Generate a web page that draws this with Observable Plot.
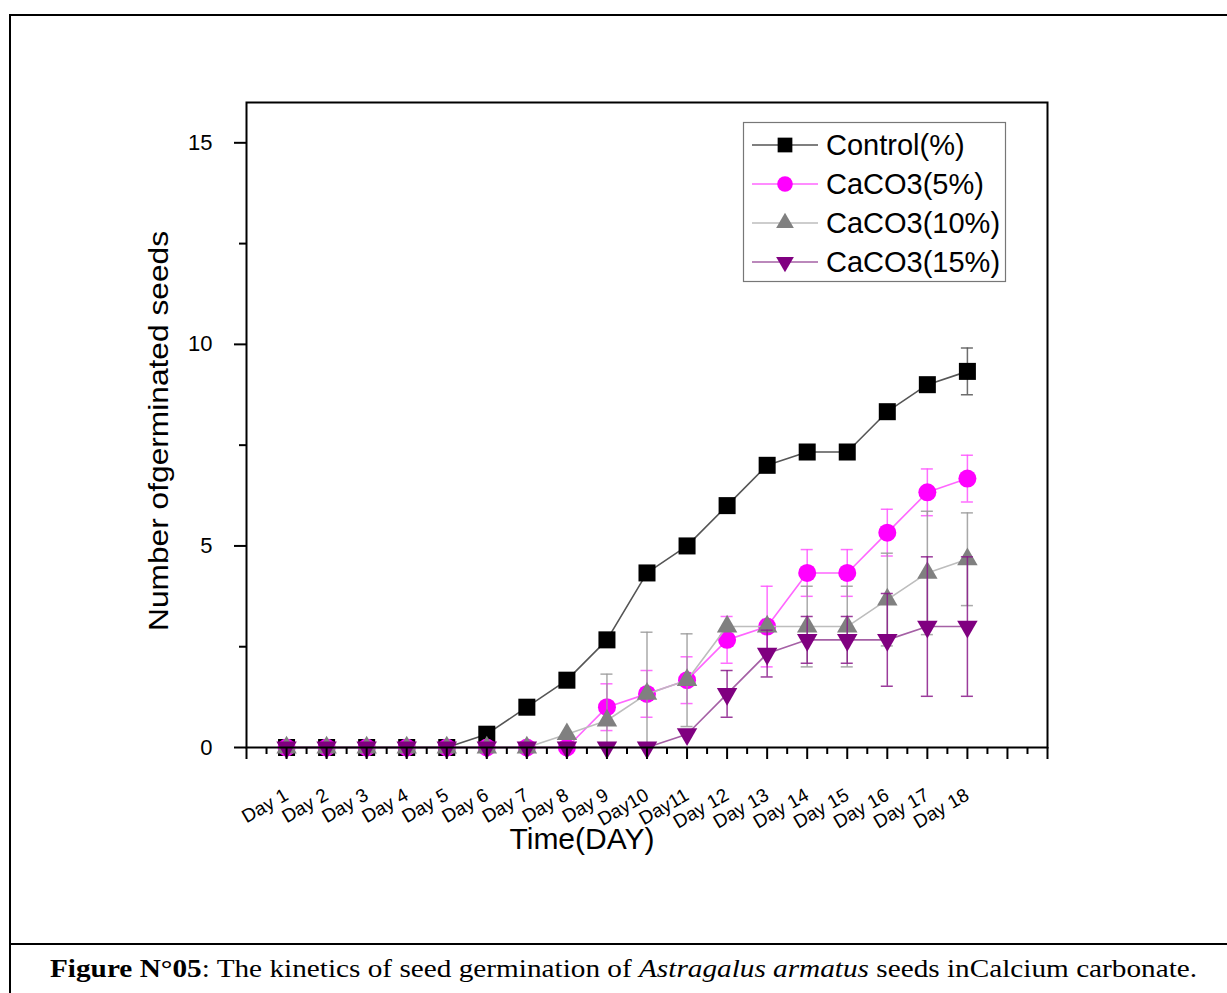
<!DOCTYPE html>
<html>
<head>
<meta charset="utf-8">
<script src="https://cdn.jsdelivr.net/npm/d3@7"></script>
<script src="https://cdn.jsdelivr.net/npm/@observablehq/plot@0.6"></script>
<style>
  html, body { margin: 0; padding: 0; background: #fff; }
  #wrap { position: relative; width: 1227px; height: 993px; overflow: hidden; }
  .line { position: absolute; background: #000; }
  #caption { position: absolute; left: 50px; top: 954px; font-family: "Liberation Serif", "Times New Roman", serif; font-size: 26px; white-space: nowrap; color: #000; transform: scaleX(1.125); transform-origin: left top; }
  #legend { position: absolute; left: 0; top: 0; }
</style>
</head>
<body>
<div id="wrap">
  <div id="chart"></div>
  <div class="line" style="left:9px; top:14px; width:1218px; height:2px;"></div>
  <div class="line" style="left:9px; top:14px; width:2px; height:979px;"></div>
  <div class="line" style="left:9px; top:943px; width:1218px; height:2px;"></div>
  <div id="caption"><b>Figure N°05</b>: The kinetics of seed germination of <i>Astragalus armatus</i> seeds inCalcium carbonate.</div>
</div>
<script>
// ---- data ----
const days = [1,2,3,4,5,6,7,8,9,10,11,12,13,14,15,16,17,18];
const dayLabels = ["Day 1","Day 2","Day 3","Day 4","Day 5","Day 6","Day 7","Day 8","Day 9","Day10","Day11","Day 12","Day 13","Day 14","Day 15","Day 16","Day 17","Day 18"];
const seriesNames = ["Control(%)", "CaCO3(5%)", "CaCO3(10%)", "CaCO3(15%)"];
const control    = [0,0,0,0,0,0.33,1,1.67,2.67,4.33,5,6,7,7.33,7.33,8.33,9,9.33];
const controlErr = [0,0,0,0,0,0,0,0,0,0,0,0,0,0,0,0,0,0.58];
const caco3_5    = [0,0,0,0,0,0,0,0,1,1.33,1.67,2.67,3,4.33,4.33,5.33,6.33,6.67];
const caco3_5Err = [0,0,0,0,0,0,0,0,0.58,0.58,0.58,0.58,1,0.58,0.58,0.58,0.58,0.58];
const caco3_10    = [0,0,0,0,0,0,0,0.33,0.67,1.33,1.67,3,3,3,3,3.67,4.33,4.67];
const caco3_10Err = [0,0,0,0,0,0,0,0,1.15,1.53,1.15,0,0,1,1,1.15,1.53,1.15];
const caco3_15    = [0,0,0,0,0,0,0,0,0,0,0.33,1.33,2.33,2.67,2.67,2.67,3,3];
const caco3_15Err = [0,0,0,0,0,0,0,0,0,0,0,0.58,0.58,0.58,0.58,1.15,1.73,1.73];
const yTicks = [0,5,10,15];
const yMinorTicks = [2.5,7.5,12.5];

// ---- styles ----
const triangleDown = {
  draw(context, size) {
    const s3 = Math.sqrt(3);
    const y = -Math.sqrt(size / (s3 * 3));
    context.moveTo(0, -y * 2);
    context.lineTo(-s3 * y, y);
    context.lineTo(s3 * y, y);
    context.closePath();
  }
};
const styles = [
  {line: "#555555", fill: "#000000", err: "#555555", symbol: "square", r: 9.6},
  {line: "#ff66ff", fill: "#ff00ff", err: "#ff55ff", symbol: "circle", r: 9},
  {line: "#bdbdbd", fill: "#808080", err: "#9a9a9a", symbol: "triangle", r: 7.6},
  {line: "#a560a5", fill: "#800080", err: "#8a1a8a", symbol: triangleDown, r: 7.6}
];
const values = [control, caco3_5, caco3_10, caco3_15];
const errs = [controlErr, caco3_5Err, caco3_10Err, caco3_15Err];

const tables = values.map((vals, s) => days.map((d, i) => ({
  series: seriesNames[s], day: d, value: vals[i], err: errs[s][i]
})));

const marks = [];
tables.forEach((rows, s) => {
  const st = styles[s];
  const er = rows.filter(r => r.err > 0);
  marks.push(
    Plot.ruleX(er, {x: "day", y1: r => Math.max(0, r.value - r.err), y2: r => r.value + r.err, stroke: st.err, strokeWidth: 1.5, strokeOpacity: 0.85}),
    Plot.ruleY(er, {y: r => r.value + r.err, x1: r => r.day - 0.15, x2: r => r.day + 0.15, stroke: st.err, strokeWidth: 1.5, strokeOpacity: 0.85}),
    Plot.ruleY(er.filter(r => r.value - r.err > 0), {y: r => r.value - r.err, x1: r => r.day - 0.15, x2: r => r.day + 0.15, stroke: st.err, strokeWidth: 1.5, strokeOpacity: 0.85}),
    Plot.line(rows, {x: "day", y: "value", stroke: st.line, strokeWidth: 1.6}),
    Plot.dot(rows, {x: "day", y: "value", symbol: () => st.symbol, fill: st.fill, stroke: "none", r: st.r})
  );
});

const chart = Plot.plot({
  width: 1227,
  height: 940,
  marginLeft: 246,
  marginRight: 180,
  marginTop: 102,
  marginBottom: 193,
  x: {domain: [0, 20]},
  y: {domain: [0, 16]},
  symbol: {type: "identity"},
  style: {fontFamily: "Arial, 'Liberation Sans', sans-serif", background: "transparent", color: "#000", overflow: "visible"},
  marks: [
    ...marks,
    Plot.frame({stroke: "#000", strokeWidth: 2}),
    Plot.axisY({ticks: yTicks, tickSize: 12, tickPadding: 22, fontSize: 22, label: null, strokeWidth: 2}),
    Plot.axisY({ticks: yMinorTicks, tickSize: 7, tickFormat: () => "", label: null, strokeWidth: 2}),
    Plot.axisX({ticks: d3.range(0, 21), tickSize: 12, tickPadding: 34, tickRotate: -30, fontSize: 19,
      tickFormat: d => (d >= 1 && d <= 18) ? dayLabels[d - 1] : "", label: null, strokeWidth: 2}),
    Plot.axisX({ticks: d3.range(0.5, 20, 1), tickSize: 7, tickFormat: () => "", label: null, strokeWidth: 2}),
    Plot.text(["Number ofgerminated seeds"], {frameAnchor: "left", dx: -87, dy: 206, rotate: -90, textAnchor: "start", fontSize: 28, fill: "#000", className: "ylab"}),
    Plot.text(["Time(DAY)"], {frameAnchor: "bottom", dx: -65, dy: 101, fontSize: 30, fill: "#000"})
  ]
});
document.getElementById("chart").appendChild(chart);
// stretch y label to reference length
d3.select(chart).selectAll(".ylab text").attr("textLength", 400).attr("lengthAdjust", "spacingAndGlyphs");

// ---- legend ----
const legend = d3.select("#wrap").append("svg").attr("id", "legend")
  .attr("width", 1227).attr("height", 993);
legend.append("rect").attr("x", 743.5).attr("y", 122.5).attr("width", 262).attr("height", 159)
  .attr("fill", "#fff").attr("stroke", "#777").attr("stroke-width", 1.2);
seriesNames.forEach((name, i) => {
  const st = styles[i];
  const cy = 145 + i * 39;
  legend.append("line").attr("x1", 752).attr("x2", 818).attr("y1", cy).attr("y2", cy)
    .attr("stroke", st.line).attr("stroke-width", 1.6);
  const sym = typeof st.symbol === "string"
    ? {square: d3.symbolSquare, circle: d3.symbolCircle, triangle: d3.symbolTriangle}[st.symbol]
    : st.symbol;
  legend.append("path").attr("transform", `translate(785,${cy})`)
    .attr("d", d3.symbol(sym, Math.PI * st.r * st.r * 0.75)())
    .attr("fill", st.fill);
  legend.append("text").attr("x", 826).attr("y", cy + 10)
    .attr("font-family", "Arial, 'Liberation Sans', sans-serif").attr("font-size", 29)
    .text(name);
});
</script>
</body>
</html>
